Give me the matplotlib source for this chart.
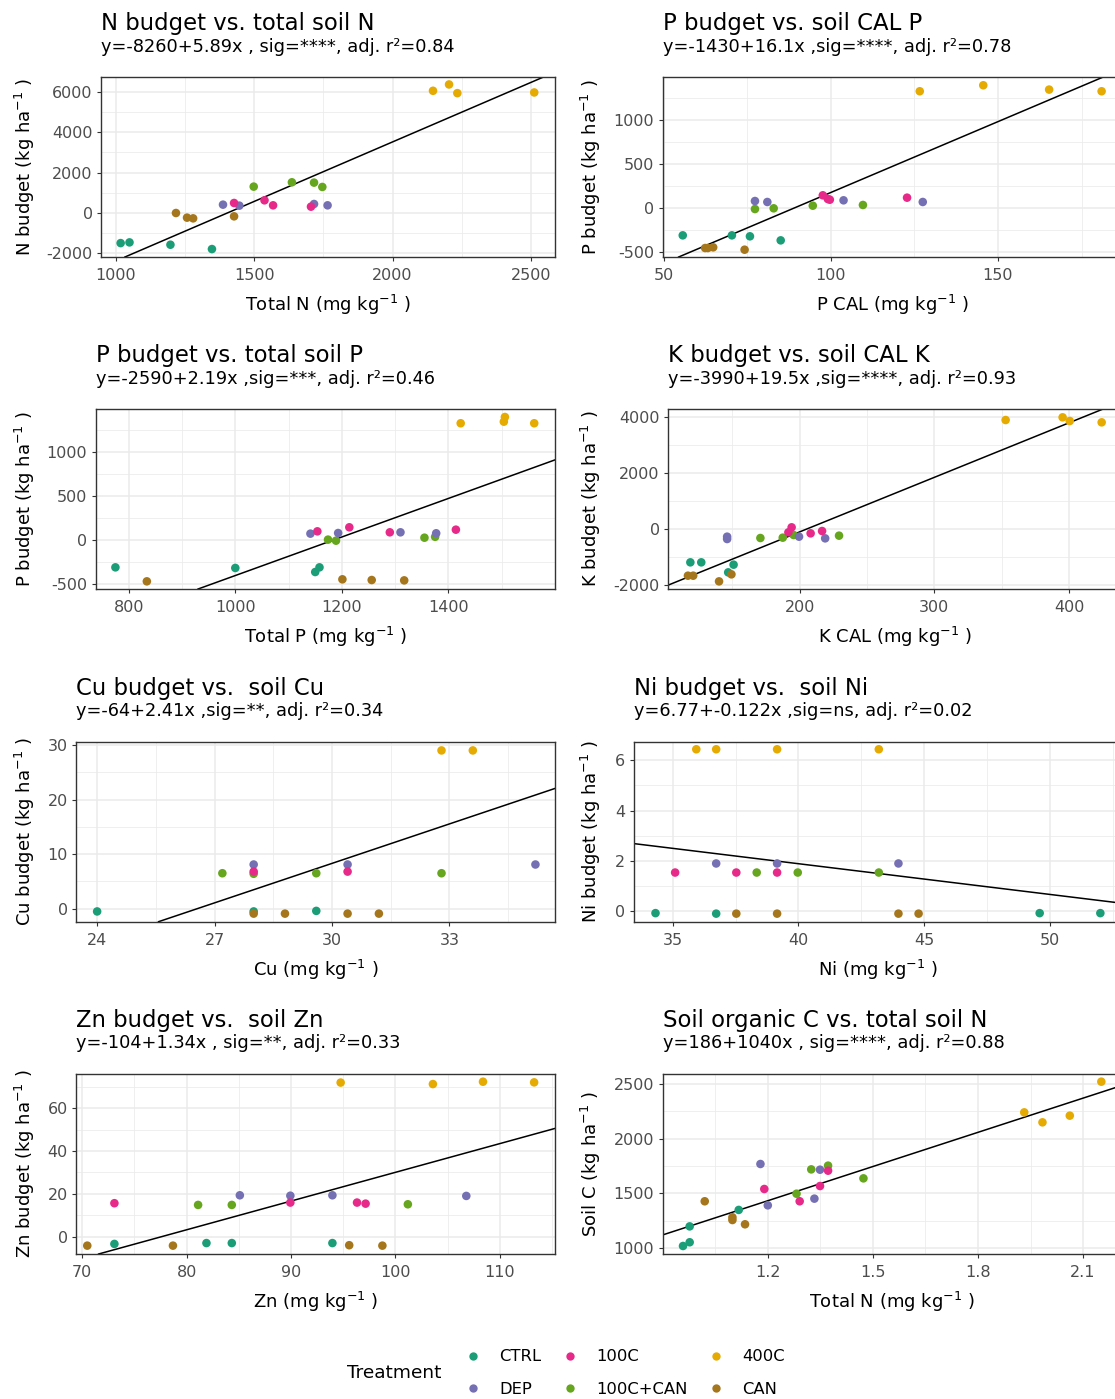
import matplotlib
matplotlib.use("Agg")
import matplotlib.pyplot as plt
from matplotlib.lines import Line2D
from matplotlib.ticker import FixedLocator

plt.rcParams['font.family'] = ['DejaVu Sans']
plt.rcParams['mathtext.default'] = 'regular'
plt.rcParams['axes.unicode_minus'] = False

# ---------------- data ----------------
treatments = ['CTRL', 'DEP', '100C', '100C+CAN', '400C', 'CAN']
treat_colors = ['#1B9E77', '#7570B3', '#E7298A', '#66A61E', '#E6AB02', '#A6761D']
draw_order = ['CTRL', '100C+CAN', 'DEP', '100C', '400C', 'CAN']

# N budget vs total soil N
n_x = {'CTRL': [1017, 1049, 1197, 1347], 'DEP': [1387, 1446, 1716, 1765],
       '100C': [1427, 1537, 1568, 1705], '100C+CAN': [1498, 1636, 1716, 1746],
       '400C': [2146, 2204, 2234, 2512], 'CAN': [1217, 1257, 1279, 1427]}
n_y = {'CTRL': [-1490, -1455, -1570, -1785], 'DEP': [413, 364, 446, 380],
       '100C': [496, 628, 380, 314], '100C+CAN': [1306, 1520, 1504, 1289],
       '400C': [6050, 6364, 5934, 5967], 'CAN': [0, -230, -265, -165]}

# P budget vs soil CAL P
pcal_x = {'CTRL': [55.7, 70.4, 75.8, 85.0], 'DEP': [77.3, 81.0, 103.8, 127.5],
          '100C': [97.6, 99.1, 99.7, 122.8], '100C+CAN': [77.3, 82.9, 94.6, 109.6],
          '400C': [126.6, 145.6, 165.3, 181.0], 'CAN': [62.4, 63.2, 64.8, 74.2]}
pcal_y = {'CTRL': [-307, -307, -318, -364], 'DEP': [83, 72, 91, 72],
          '100C': [148, 106, 98, 121], '100C+CAN': [-8, 0, 30, 38],
          '400C': [1330, 1398, 1349, 1330], 'CAN': [-451, -451, -443, -470]}

# P budget vs total soil P
ptot_x = {'CTRL': [775, 1000, 1150, 1158], 'DEP': [1141, 1193, 1310, 1377],
          '100C': [1154, 1214, 1290, 1414], '100C+CAN': [1174, 1189, 1355, 1375],
          '400C': [1423, 1506, 1504, 1561], 'CAN': [834, 1201, 1256, 1317]}
ptot_y = {'CTRL': [-307, -314, -360, -307], 'DEP': [76, 83, 91, 80],
          '100C': [102, 148, 91, 121], '100C+CAN': [8, -4, 30, 40],
          '400C': [1330, 1401, 1348, 1330], 'CAN': [-466, -443, -451, -455]}

# K budget vs soil CAL K
kcal_x = {'CTRL': [118.8, 126.9, 146.9, 150.9], 'DEP': [146.1, 146.1, 199.5, 218.9],
          '100C': [191.6, 194.0, 208.1, 216.6], '100C+CAN': [170.8, 187.4, 195.5, 229.2],
          '400C': [352.9, 395.2, 400.5, 424.2], 'CAN': [117.0, 120.9, 140.1, 149.3]}
kcal_y = {'CTRL': [-1180, -1180, -1538, -1263], 'DEP': [-262, -346, -262, -322],
          '100C': [-107, 72, -143, -60], '100C+CAN': [-310, -298, -203, -226],
          '400C': [3909, 4005, 3874, 3826], 'CAN': [-1657, -1657, -1860, -1609]}

# Cu budget vs soil Cu
cu_x = {'CTRL': [24.0, 28.0, 29.6], 'DEP': [28.0, 30.4, 35.2],
        '100C': [28.0, 30.4], '100C+CAN': [27.2, 28.0, 29.6, 32.8],
        '400C': [32.8, 33.6], 'CAN': [28.0, 28.8, 30.4, 31.2]}
cu_y = {'CTRL': [-0.5, -0.5, -0.4], 'DEP': [8.1, 8.1, 8.1],
        '100C': [6.8, 6.8], '100C+CAN': [6.5, 6.4, 6.5, 6.5],
        '400C': [29.0, 29.0], 'CAN': [-0.9, -0.9, -0.9, -0.9]}

# Ni budget vs soil Ni
ni_x = {'CTRL': [34.32, 36.73, 49.58, 51.99], 'DEP': [36.73, 39.15, 43.97],
        '100C': [35.1, 37.53, 39.15], '100C+CAN': [38.34, 39.97, 43.19],
        '400C': [35.94, 36.73, 39.15, 43.19], 'CAN': [37.53, 39.15, 43.97, 44.77]}
ni_y = {'CTRL': [-0.07, -0.09, -0.07, -0.07], 'DEP': [1.90, 1.90, 1.90],
        '100C': [1.54, 1.54, 1.54], '100C+CAN': [1.54, 1.54, 1.54],
        '400C': [6.43, 6.43, 6.43, 6.43], 'CAN': [-0.09, -0.09, -0.09, -0.09]}

# Zn budget vs soil Zn
zn_x = {'CTRL': [73.08, 81.9, 84.33, 93.97], 'DEP': [85.1, 89.94, 93.97, 106.8],
        '100C': [73.08, 89.94, 96.33, 97.15], '100C+CAN': [81.1, 84.33, 101.2],
        '400C': [94.76, 103.6, 108.4, 113.3], 'CAN': [70.48, 78.69, 95.58, 98.76]}
zn_y = {'CTRL': [-3.4, -3.0, -3.0, -3.0], 'DEP': [19.3, 19.1, 19.3, 19.0],
        '100C': [15.6, 15.9, 15.9, 15.4], '100C+CAN': [14.8, 14.8, 15.1],
        '400C': [71.9, 71.2, 72.3, 72.0], 'CAN': [-4.2, -4.2, -4.0, -4.2]}

# Soil organic C vs total soil N
sc_x = {'CTRL': [0.958, 0.977, 0.977, 1.117], 'DEP': [1.179, 1.200, 1.333, 1.349],
        '100C': [1.190, 1.291, 1.349, 1.372], '100C+CAN': [1.282, 1.324, 1.372, 1.473],
        '400C': [1.932, 1.984, 2.062, 2.152], 'CAN': [1.020, 1.099, 1.099, 1.135]}
sc_y = {'CTRL': [1021, 1055, 1200, 1350], 'DEP': [1769, 1392, 1453, 1717],
        '100C': [1541, 1429, 1568, 1708], '100C+CAN': [1498, 1720, 1754, 1638],
        '400C': [2240, 2149, 2210, 2520], 'CAN': [1429, 1283, 1258, 1219]}

fit_intercept = [-8260, -1430, -2590, -3990, -64, 6.77, -104, 186]
fit_slope = [5.89, 16.1, 2.19, 19.5, 2.41, -0.122, 1.34, 1040]

titles = ['N budget vs. total soil N', 'P budget vs. soil CAL P',
          'P budget vs. total soil P', 'K budget vs. soil CAL K',
          'Cu budget vs.  soil Cu', 'Ni budget vs.  soil Ni',
          'Zn budget vs.  soil Zn', 'Soil organic C vs. total soil N']
subtitles = ['y=-8260+5.89x , sig=****, adj. r²=0.84',
             'y=-1430+16.1x ,sig=****, adj. r²=0.78',
             'y=-2590+2.19x ,sig=***, adj. r²=0.46',
             'y=-3990+19.5x ,sig=****, adj. r²=0.93',
             'y=-64+2.41x ,sig=**, adj. r²=0.34',
             'y=6.77+-0.122x ,sig=ns, adj. r²=0.02',
             'y=-104+1.34x , sig=**, adj. r²=0.33',
             'y=186+1040x , sig=****, adj. r²=0.88']
ylabels = ['N budget', 'P budget', 'P budget', 'K budget',
           'Cu budget', 'Ni budget', 'Zn budget', 'Soil C']
xlabels = ['Total N', 'P CAL', 'Total P', 'K CAL', 'Cu', 'Ni', 'Zn', 'Total N']
xticks = [[1000, 1500, 2000, 2500], [50, 100, 150], [800, 1000, 1200, 1400],
          [200, 300, 400], [24, 27, 30, 33], [35, 40, 45, 50],
          [70, 80, 90, 100, 110], [1.2, 1.5, 1.8, 2.1]]
yticks = [[-2000, 0, 2000, 4000, 6000], [-500, 0, 500, 1000], [-500, 0, 500, 1000],
          [-2000, 0, 2000, 4000], [0, 10, 20, 30], [0, 2, 4, 6],
          [0, 20, 40, 60], [1000, 1500, 2000, 2500]]

panel_x = [n_x, pcal_x, ptot_x, kcal_x, cu_x, ni_x, zn_x, sc_x]
panel_y = [n_y, pcal_y, ptot_y, kcal_y, cu_y, ni_y, zn_y, sc_y]

# ---------------- layout (pixels) ----------------
W, H = 1115, 1399
fig = plt.figure(figsize=(W / 100, H / 100), dpi=100)

boxes = [(101, 555, 77), (662.7, 1122, 77),
         (95.7, 555, 409), (668, 1122, 409),
         (76, 555, 741.7), (633.6, 1122, 741.7),
         (76, 555, 1074), (662.7, 1122, 1074)]
PH = 180
xlims = [(946, 2587), (49.7, 187.1), (738, 1600), (102.2, 439.3),
         (23.46, 35.7), (33.45, 52.85), (69.4, 115.3), (0.9, 2.211)]
ylims = [(-2178, 6733), (-553, 1492), (-553, 1492), (-2133, 4303),
         (-2.38, 30.6), (-0.41, 6.73), (-8.1, 75.9), (948, 2590)]
ylab_x = [25, 591]

grid_col = '#EBEBEB'
dark = '#333333'


def minor_from(major, lim):
    step = major[1] - major[0]
    cands = [m - step / 2 for m in major] + [major[-1] + step / 2]
    return [c for c in cands if lim[0] <= c <= lim[1]]


for i in range(8):
    L, R, T = boxes[i]
    B = T + PH
    ax = fig.add_axes([L / W, 1 - B / H, (R - L) / W, PH / H])
    ax.set_xlim(*xlims[i])
    ax.set_ylim(*ylims[i])
    ax.set_xticks(xticks[i])
    ax.set_yticks(yticks[i])
    ax.xaxis.set_minor_locator(FixedLocator(minor_from(xticks[i], xlims[i])))
    ax.yaxis.set_minor_locator(FixedLocator(minor_from(yticks[i], ylims[i])))
    ax.grid(True, which='major', color=grid_col, lw=1.1)
    ax.grid(True, which='minor', color=grid_col, lw=0.55)
    ax.set_axisbelow(True)
    for s in ax.spines.values():
        s.set_color(dark)
        s.set_linewidth(1.0)
    ax.tick_params(which='major', direction='out', length=3, width=0.8,
                   color=dark, labelsize=11.5, labelcolor='#4D4D4D', pad=3)
    ax.tick_params(axis='x', which='major', pad=5)
    ax.tick_params(which='minor', length=0)

    ax.axline((0, fit_intercept[i]), slope=fit_slope[i], color='black',
              lw=1.1, zorder=2)
    for t in draw_order:
        c = treat_colors[treatments.index(t)]
        ax.scatter(panel_x[i][t], panel_y[i][t], s=38, color=c,
                   edgecolors='none', zorder=3)

    ax.set_xlabel(xlabels[i] + ' (mg kg$^{-1}$ )', fontsize=13, va='center')
    ax.xaxis.set_label_coords(0.5, -48.0 / PH)
    ax.set_ylabel(ylabels[i] + ' (kg ha$^{-1}$ )', fontsize=13,
                  va='center', ha='center')
    col = i % 2
    ax.yaxis.set_label_coords((ylab_x[col] - L) / (R - L), 0.5)

    fig.text(L / W, 1 - (T - 47) / H, titles[i], fontsize=16.4,
             ha='left', va='baseline')
    fig.text(L / W, 1 - (T - 25.5) / H, subtitles[i], fontsize=12.8,
             ha='left', va='baseline')

# ---------------- legend ----------------
handles = [Line2D([], [], ls='none', marker='o', markersize=6,
                  markerfacecolor=c, markeredgecolor='none')
           for c in treat_colors]
fig.legend(handles, treatments, ncol=3, loc='center left',
           bbox_to_anchor=(468 / W, 1 - 1373 / H), frameon=False,
           fontsize=11.8, handlelength=0.6, handletextpad=1.3,
           columnspacing=1.45, labelspacing=1.05, borderpad=0,
           borderaxespad=0)
fig.text(347 / W, 1 - 1373 / H, 'Treatment', fontsize=13.3,
         ha='left', va='center')

fig.savefig('out.png', dpi=100)
